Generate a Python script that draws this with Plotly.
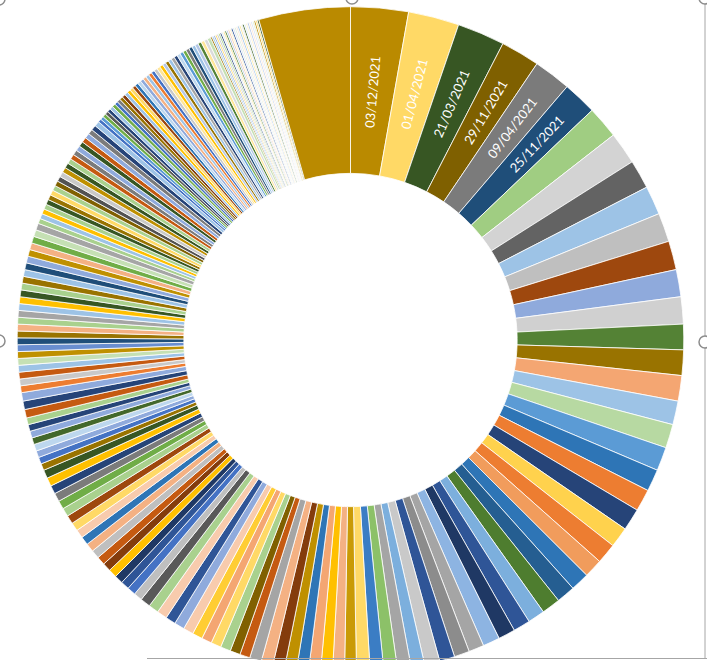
import plotly.graph_objects as go

# ---- data (slice sizes, in arbitrary units) ----
labeled_dates = ["03/12/2021", "01/04/2021", "21/03/2021", "29/11/2021", "09/04/2021", "25/11/2021"]
labeled_values = [34, 30, 28, 23, 22, 20]

right_values = [19, 19, 17, 17, 17, 17, 16, 16, 15, 15, 15, 14, 14,
                14, 13, 13, 13, 12, 12, 11, 11, 11, 11, 10, 10, 10, 10,
                9, 9, 9, 9, 8, 8, 8, 8]

bottom_left_values = [8, 7, 7, 7, 7, 7, 7, 7, 7, 7,
                      6, 6, 6, 6, 6, 6, 6, 6, 6, 6, 6,
                      6, 5, 5, 5, 5, 5, 5, 5, 5, 5, 5, 5, 5]

left_values = [5, 5, 5, 5, 5, 5, 5, 4, 4, 4, 4, 4, 4, 4, 4,
               5, 5, 5, 4, 4, 4, 4, 4, 4, 4, 4, 4, 4, 4, 4, 4,
               4, 4, 4, 4, 4, 4, 4, 4, 4, 4, 4, 4, 3, 3, 3, 3, 3, 3]

top_left_values = [3, 3, 3, 3, 3, 3, 3, 3, 3, 3, 3, 3, 3, 3, 3, 3, 3, 2, 2, 2, 2, 2, 2, 2, 2,
                   2, 2, 2, 2, 2, 2, 2, 2, 2, 2, 2, 2, 2, 2, 2, 2, 2, 2, 2, 2, 2, 2, 2, 2, 2,
                   2, 2, 2, 2, 2, 2, 2, 2,
                   1, 1, 1, 1, 1, 1, 1, 1, 1, 1, 1, 1, 1, 1, 1,
                   1, 1, 1, 1, 1, 1, 1, 1, 1, 1, 1, 1, 1, 1, 1]

last_value = 54

values = labeled_values + right_values + bottom_left_values + left_values + top_left_values + [last_value]
n = len(values)
pad = "\u00a0" * 3
texts = [d + pad for d in labeled_dates] + [""] * (n - len(labeled_dates))

# ---- styles ----
slice_colors = [
    "#BA8A00", "#FFD966", "#375623", "#7F6000", "#7B7B7B", "#1F4E79", "#A0CD82", "#D3D3D3",
    "#636363", "#9DC3E6", "#BFBFBF", "#9E480E", "#8FAADC", "#D0D0D0", "#548235", "#997300",
    "#F4A672", "#9DC3E6", "#B7D9A2", "#5B9BD5", "#2E75B6", "#ED7D31", "#264478", "#FFD24D",
    "#ED7D31", "#F19C5C", "#2E75B6", "#255E91", "#4E7D2F", "#7CAFDD", "#2F5597", "#1F3864",
    "#8DB4E2", "#A5A5A5", "#8C8C8C", "#2F5597", "#C9C9C9", "#7CAFDD", "#A5A5A5", "#8CC168",
    "#3B7DC4",
    "#FFD966", "#C99A06", "#F4B183", "#FFC000", "#F4A672", "#2E75B6", "#BF9000", "#843C0C",
    "#F4B183", "#A5A5A5", "#C55A11", "#806000", "#A9D18E", "#FFD966", "#F4A672", "#FFCD33",
    "#F8CBAD", "#8FAADC", "#2F5597", "#F8CBAD", "#A9D18E", "#595959", "#BFBFBF", "#4472C4",
    "#2F5597", "#1F3864", "#FFC000", "#843C0C", "#C55A11", "#BFBFBF", "#F4B183", "#2E75B6",
    "#F8CBAD", "#FFD966", "#9E480E", "#A9D18E", "#70AD47",
    "#7B7B7B", "#264478", "#FFC000", "#375623", "#997300", "#4472C4", "#8FAADC", "#BDD7EE",
    "#43682B", "#8FAADC", "#264478", "#A9D18E", "#C55A11", "#264478", "#8FAADC", "#ED7D31",
    "#C9C9C9", "#C55A11", "#9DC3E6", "#C5E0B4", "#BF9000", "#698ED0", "#1F4E79", "#997300",
    "#F4B183", "#A9D18E", "#A5A5A5", "#9DC3E6", "#FFC000", "#375623", "#A9D18E",
    "#997300", "#9DC3E6", "#1F4E79", "#8FAADC", "#BF9000", "#F4B183", "#70AD47", "#C5E0B4",
    "#A5A5A5", "#A9D18E", "#9DC3E6", "#FFC000", "#A9D18E", "#375623", "#997300", "#FFD966",
    "#A9D18E", "#806000", "#525252", "#C9C9C9", "#BF9000", "#375623", "#A9D18E", "#C55A11",
    "#7B7B7B", "#8FAADC", "#375623", "#C55A11", "#8FAADC", "#7B7B7B", "#264478", "#9DC3E6",
    "#4472C4",
    "#5B9BD5", "#70AD47", "#595959", "#264478", "#9DC3E6", "#70AD47", "#4472C4", "#7B7B7B",
    "#997300", "#843C0C", "#9DC3E6", "#FFC000", "#FFD966", "#9E480E", "#2E75B6", "#BDD7EE",
    "#8FAADC", "#F4B183", "#9DC3E6", "#ED7D31", "#4472C4", "#C9C9C9", "#FFE699", "#FFC000",
    "#B4C7E7", "#997300", "#9DC3E6", "#A5A5A5", "#264478", "#BDD7EE", "#5B9BD5", "#70AD47",
    "#7B7B7B", "#1F4E79", "#9DC3E6", "#B4C7E7", "#548235", "#FFE699", "#DBDBDB", "#C5E0B4",
    "#997300", "#9DC3E6", "#8FAADC", "#FFD966", "#C9C9C9", "#A9D18E", "#264478", "#DEEBF7",
    "#FFE699", "#548235", "#B4C7E7", "#F8CBAD", "#FFF2CC", "#2F5597", "#DAE3F3", "#E2F0D9",
    "#FBE5D6", "#9DC3E6", "#FFE699", "#EDEDED", "#43682B", "#DEEBF7", "#FFF2CC", "#B4C7E7",
    "#FBE5D6", "#DAE3F3", "#E2F0D9",
]
body = (slice_colors * 3)[: n - 1]
colors = body + ["#BA8A00"]

W, H = 707, 680
cx, cy, R = 350.5, 340.0, 333.3

fig = go.Figure(go.Pie(
    values=values,
    text=texts,
    textinfo="text",
    textposition="inside",
    insidetextorientation="radial",
    textfont=dict(family="Lato", size=13, color="white"),
    sort=False,
    direction="clockwise",
    rotation=0,
    hole=0.5,
    marker=dict(colors=colors, line=dict(color="white", width=0.8)),
    hoverinfo="none",
    domain=dict(x=[(cx - R) / W, (cx + R) / W], y=[(H - cy - R) / H, (H - cy + R) / H]),
    showlegend=False,
))

def px(x):
    return x / W

def py(y):
    return (H - y) / H

shapes = [
    dict(type="line", xref="paper", yref="paper", x0=px(705), x1=px(705), y0=py(0), y1=py(659),
         line=dict(color="#A6A6A6", width=1)),
    dict(type="line", xref="paper", yref="paper", x0=px(147), x1=px(707), y0=py(658.5), y1=py(658.5),
         line=dict(color="#A6A6A6", width=1)),
]
for hx, hy in [(-1, -1), (352, -2), (705, -2), (-1, 341), (705, 342)]:
    shapes.append(dict(type="circle", xref="paper", yref="paper",
                       x0=px(hx - 6), x1=px(hx + 6), y0=py(hy + 6), y1=py(hy - 6),
                       fillcolor="white", line=dict(color="#8C8C8C", width=1.5)))

fig.update_layout(
    width=W, height=H,
    margin=dict(l=0, r=0, t=0, b=0),
    paper_bgcolor="white",
    plot_bgcolor="white",
    shapes=shapes,
)

fig.write_html(
    "out.html",
    post_script="document.body.style.margin='0';document.body.style.overflow='hidden';"
                "document.documentElement.style.overflow='hidden';",
)
